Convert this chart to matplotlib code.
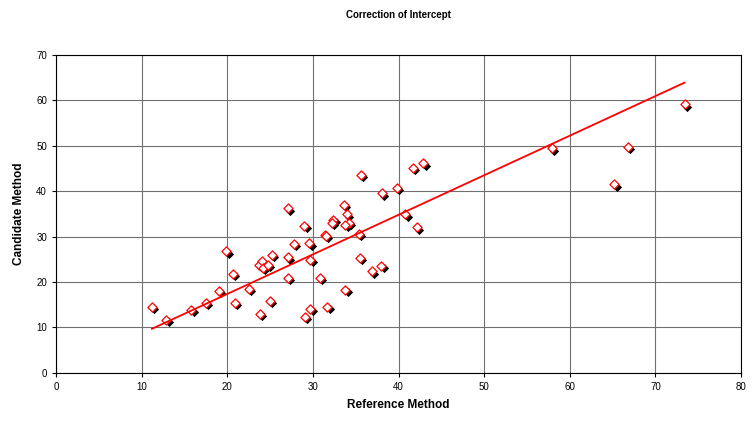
import numpy as np
import matplotlib
matplotlib.use("Agg")
import matplotlib.pyplot as plt
import matplotlib.transforms as mtransforms

plt.rcParams['font.family'] = ['Liberation Sans', 'DejaVu Sans']

# values
reference = [11.2, 12.9, 15.8, 17.5, 19.0, 19.9, 20.7, 20.9, 22.5, 23.7,
             24.0, 24.2, 24.7, 23.8, 25.2, 25.0, 27.1, 27.1, 27.1, 27.8,
             29.0, 29.6, 29.7, 29.1, 29.7, 30.8, 31.4, 31.5, 32.4, 32.2,
             31.7, 33.6, 34.0, 34.2, 33.8, 33.8, 35.6, 35.4, 35.5, 36.9,
             38.0, 38.1, 39.8, 40.8, 41.7, 42.9, 42.1, 57.9, 66.8, 65.2, 73.4]
candidate = [14.5, 11.6, 13.8, 15.3, 18.1, 26.7, 21.7, 15.3, 18.5, 23.7,
             24.5, 23.1, 23.7, 12.9, 25.9, 15.8, 36.2, 25.4, 20.8, 28.4,
             32.4, 28.5, 24.8, 12.3, 14.0, 20.8, 30.4, 30.1, 33.6, 33.0,
             14.5, 36.9, 34.9, 33.0, 32.5, 18.2, 43.6, 30.6, 25.3, 22.3,
             23.6, 39.5, 40.8, 34.9, 45.2, 46.1, 32.0, 49.4, 49.8, 41.5, 59.1]

fit_slope = 0.872
fit_intercept = -0.1

fig = plt.figure(figsize=(7.52, 4.23), dpi=100)
ax = fig.add_axes([0.0745, 0.119, 0.9109, 0.751])

ax.grid(True, color='#707070', linewidth=0.8)
ax.set_axisbelow(True)

# shadowed diamonds
shadow = mtransforms.offset_copy(ax.transData, fig=fig, x=1.6, y=-1.6, units='points')
ax.scatter(reference, candidate, marker='D', s=22, color='black',
           transform=shadow, zorder=3, linewidths=0)
ax.scatter(reference, candidate, marker='D', s=22, facecolor='white',
           edgecolor='red', linewidths=0.9, zorder=4)

xs = np.array([min(reference), max(reference)])
ax.plot(xs, fit_slope * xs + fit_intercept, color='red', linewidth=1.3, zorder=5)

ax.set_xlim(0, 80)
ax.set_ylim(0, 70)
ax.set_xticks(range(0, 81, 10))
ax.set_yticks(range(0, 71, 10))
ax.tick_params(labelsize=7, direction='out', length=3, width=0.8)
for s in ax.spines.values():
    s.set_color('black')
    s.set_linewidth(0.8)

ax.set_xlabel('Reference Method', fontsize=8.5, fontweight='bold', labelpad=5)
ax.set_ylabel('Candidate Method', fontsize=8.5, fontweight='bold', labelpad=8)
fig.text(0.53, 0.965, 'Correction of Intercept', fontsize=7, fontweight='bold',
         ha='center', va='center')

fig.savefig('out.png', dpi=100)
